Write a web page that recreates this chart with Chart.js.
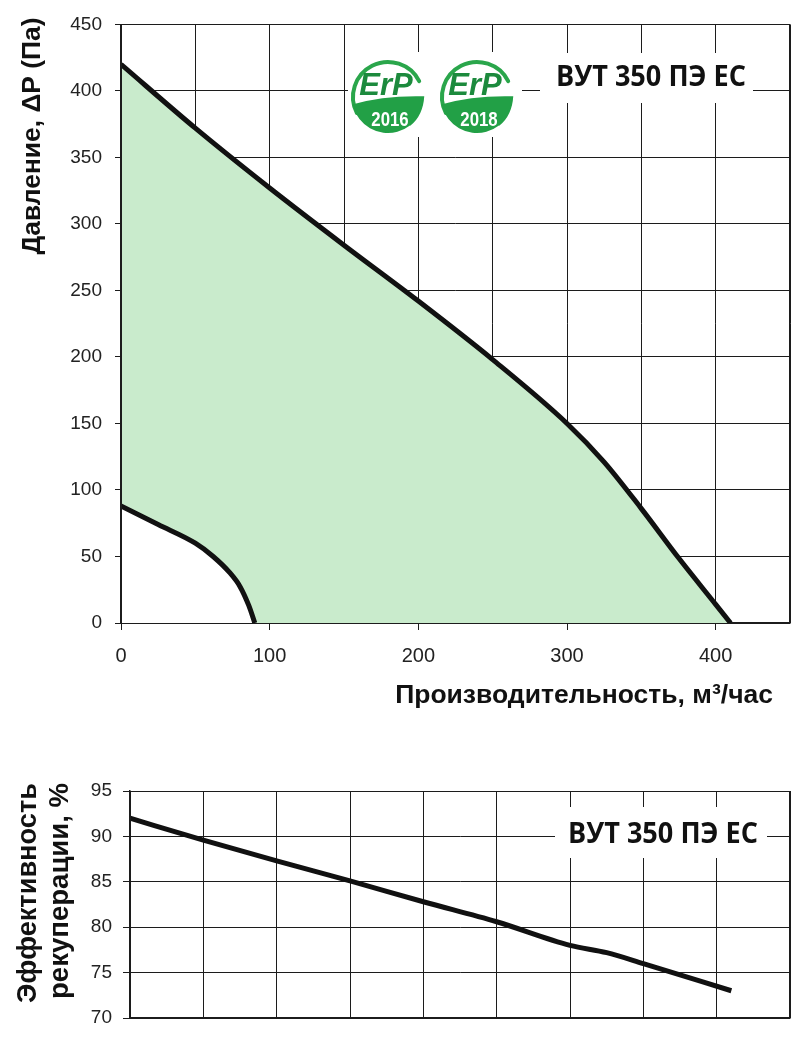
<!DOCTYPE html>
<html><head><meta charset="utf-8">
<script src="https://cdn.jsdelivr.net/npm/chart.js@4"></script>
<style>
html,body{margin:0;padding:0;background:#fff;width:800px;height:1042px;overflow:hidden}
#top{position:absolute;left:0;top:0;width:800px;height:740px}
#bot{position:absolute;left:0;top:760px;width:800px;height:282px}
</style></head><body>
<div id="top"><canvas id="c1"></canvas></div>
<div id="bot"><canvas id="c2"></canvas></div>
<script>
// ---- data ----
const flowMax = [0, 50, 100, 150, 200, 250, 300, 325, 350, 375, 400, 410];
const pressMax = [420, 372, 327, 284, 242, 198, 150, 121, 86, 49, 14, 0];
const flowMin = [0, 25, 50, 62, 73, 80, 86, 90];
const pressMin = [88, 74, 60, 50, 38, 27.5, 13, 0];
const flowEff = [0, 50, 100, 150, 200, 250, 300, 325, 350, 410];
const effValues = [92, 89.6, 87.3, 85.1, 82.8, 80.6, 78.0, 77.2, 76.0, 73.0];
const xTickLabels = [0, 100, 200, 300, 400];
const modelName = 'ВУТ 350 ПЭ ЕС';
const xTitle = 'Производительность, м³/час';
const yTitleTop = 'Давление, ΔР (Па)';
const yTitleBot = ['Эффективность', 'рекуперации, %'];
const erpYears = ['2016', '2018'];

const GRID = '#1c1c1c';
const LINE = '#111';
const GREEN = '#c9ebcc';
const TICKFONT = 'Liberation Sans, Arial, sans-serif';

function fitText(ctx, text, family, weight, targetW) {
  ctx.font = weight + ' 100px ' + family;
  const w = ctx.measureText(text).width;
  return 100 * targetW / w;
}
function drawRotated(ctx, text, xBase, yCenter, targetLen) {
  const fam = 'Liberation Sans, Arial, sans-serif';
  const size = fitText(ctx, text, fam, 'bold', targetLen);
  ctx.save();
  ctx.font = 'bold ' + size + 'px ' + fam;
  ctx.fillStyle = '#111';
  ctx.translate(xBase, yCenter);
  ctx.rotate(-Math.PI / 2);
  ctx.textAlign = 'center';
  ctx.textBaseline = 'alphabetic';
  ctx.fillText(text, 0, 0);
  ctx.restore();
}
function drawFrame(chart) {
  const ctx = chart.ctx, a = chart.chartArea;
  ctx.save();
  ctx.strokeStyle = GRID;
  ctx.lineWidth = 1;
  ctx.strokeRect(Math.round(a.left) + 0.5, Math.round(a.top) + 0.5,
                 Math.round(a.right - a.left) - 1, Math.round(a.bottom - a.top));
  ctx.restore();
}
function drawModel(ctx, cx, cy, box) {
  ctx.save();
  ctx.fillStyle = '#fff';
  ctx.fillRect(box[0], box[1], box[2] - box[0], box[3] - box[1]);
  const fam = 'Open Sans, Liberation Sans, sans-serif';
  ctx.font = 'bold 29px ' + fam;
  const w = ctx.measureText(modelName).width;
  ctx.translate(cx, cy);
  ctx.scale(190 / w, 1);
  ctx.fillStyle = '#111';
  ctx.textAlign = 'center';
  ctx.textBaseline = 'middle';
  ctx.fillText(modelName, 0, 1);
  ctx.restore();
}
function drawErp(ctx, cx, cy, r, year) {
  ctx.save();
  ctx.fillStyle = '#fff';
  ctx.beginPath(); ctx.arc(cx, cy, r, 0, Math.PI * 2); ctx.fill();
  ctx.strokeStyle = '#2aa64b';
  ctx.lineWidth = 4;
  ctx.lineCap = 'round';
  ctx.beginPath();
  ctx.arc(cx, cy, r - 2, Math.PI * 0.85, Math.PI * 1.85);
  ctx.stroke();
  ctx.fillStyle = '#22a046';
  ctx.beginPath();
  ctx.moveTo(cx - r * 0.97, cy + r * 0.2);
  ctx.quadraticCurveTo(cx - r * 0.1, cy - r * 0.05, cx + r * 0.98, cy - r * 0.02);
  ctx.quadraticCurveTo(cx + r * 0.95, cy + r * 0.5, cx + r * 0.6, cy + r * 0.78);
  ctx.arc(cx, cy, r - 1, Math.atan2(0.78, 0.6), Math.PI * 0.94);
  ctx.closePath();
  ctx.fill();
  ctx.fillStyle = '#1c8a3d';
  ctx.font = 'italic bold 31px Liberation Sans, Arial, sans-serif';
  ctx.textAlign = 'center';
  ctx.textBaseline = 'alphabetic';
  ctx.fillText('ErP', cx - 2, cy - 2);
  ctx.fillStyle = '#fff';
  ctx.translate(cx + 2, cy + r * 0.62);
  ctx.scale(0.8, 1);
  ctx.font = 'bold 21px Liberation Sans, Arial, sans-serif';
  ctx.textBaseline = 'middle';
  ctx.fillText(year, 0, 0);
  ctx.restore();
}

const xyMax = flowMax.map((x, i) => ({x, y: pressMax[i]}));
const xyMin = flowMin.map((x, i) => ({x, y: pressMin[i]}));
const xyEff = flowEff.map((x, i) => ({x, y: effValues[i]}));

const decorTop = {
  id: 'decorTop',
  afterDraw(chart) {
    const ctx = chart.ctx;
    drawFrame(chart);
    ctx.save();
    ctx.fillStyle = '#fff';
    ctx.fillRect(348, 52, 174, 85);
    drawErp(ctx, 388, 97, 37, erpYears[0]);
    drawErp(ctx, 477, 97, 37, erpYears[1]);
    drawModel(ctx, 651, 77, [540, 53, 753, 103]);
    drawRotated(ctx, yTitleTop, 40, 136, 237);
    const fam = 'Liberation Sans, Arial, sans-serif';
    const size = fitText(ctx, xTitle, fam, 'bold', 378);
    ctx.font = 'bold ' + size + 'px ' + fam;
    ctx.fillStyle = '#111';
    ctx.textAlign = 'right';
    ctx.textBaseline = 'alphabetic';
    ctx.fillText(xTitle, 773, 703);
    ctx.restore();
  }
};
const decorBot = {
  id: 'decorBot',
  afterDraw(chart) {
    const ctx = chart.ctx;
    drawFrame(chart);
    drawModel(ctx, 663, 74, [555, 47, 767, 98]);
    drawRotated(ctx, yTitleBot[0], 36, 133, 220);
    drawRotated(ctx, yTitleBot[1], 68, 131, 216);
  }
};

new Chart(document.getElementById('c1'), {
  type: 'line',
  data: {
    datasets: [
      {data: xyMin, borderColor: LINE, borderWidth: 5, backgroundColor: '#fff', fill: 'origin',
       pointRadius: 0, cubicInterpolationMode: 'monotone', borderCapStyle: 'butt'},
      {data: xyMax, borderColor: LINE, borderWidth: 5, backgroundColor: GREEN, fill: 'origin',
       pointRadius: 0, cubicInterpolationMode: 'monotone', borderCapStyle: 'butt'}
    ]
  },
  options: {
    responsive: true, maintainAspectRatio: false, animation: false,
    layout: {padding: {top: 22, right: 10, left: 0, bottom: 0}},
    plugins: {legend: {display: false}, tooltip: {enabled: false}},
    scales: {
      x: {
        type: 'linear', min: 0, max: 450, z: 1,
        afterFit: s => { s.height = 117; s.paddingRight = 0; s.paddingLeft = 0; },
        ticks: {stepSize: 50, autoSkip: false, maxRotation: 0, padding: 14,
          color: '#222', font: {family: TICKFONT, size: 20},
          callback: v => xTickLabels.includes(v) ? String(v) : ''},
        grid: {color: GRID, lineWidth: 1, tickLength: 7,
          tickColor: c => (c.tick && xTickLabels.includes(c.tick.value)) ? GRID : 'rgba(0,0,0,0)'},
        border: {color: GRID, width: 1.5}
      },
      y: {
        min: 0, max: 450, z: 1,
        afterFit: s => { s.width = 121; },
        ticks: {stepSize: 50, padding: 13, color: '#222', font: {family: TICKFONT, size: 19}},
        grid: {color: GRID, lineWidth: 1, tickLength: 6, tickColor: GRID},
        border: {color: GRID, width: 1.5}
      }
    }
  },
  plugins: [decorTop]
});

new Chart(document.getElementById('c2'), {
  type: 'line',
  data: {
    datasets: [
      {data: xyEff, borderColor: LINE, borderWidth: 5, fill: false,
       pointRadius: 0, cubicInterpolationMode: 'monotone'}
    ]
  },
  options: {
    responsive: true, maintainAspectRatio: false, animation: false,
    layout: {padding: {top: 31, right: 10, left: 0, bottom: 0}},
    plugins: {legend: {display: false}, tooltip: {enabled: false}},
    scales: {
      x: {
        type: 'linear', min: 0, max: 450, z: 1,
        afterFit: s => { s.height = 24; },
        ticks: {stepSize: 50, display: false},
        grid: {color: GRID, lineWidth: 1, drawTicks: false},
        border: {color: GRID, width: 1.5}
      },
      y: {
        min: 70, max: 95, z: 1,
        afterFit: s => { s.width = 130; },
        ticks: {stepSize: 5, padding: 11, color: '#222', font: {family: TICKFONT, size: 19}},
        grid: {color: GRID, lineWidth: 1, tickLength: 7, tickColor: GRID},
        border: {color: GRID, width: 1.5}
      }
    }
  },
  plugins: [decorBot]
});
</script>
</body></html>
